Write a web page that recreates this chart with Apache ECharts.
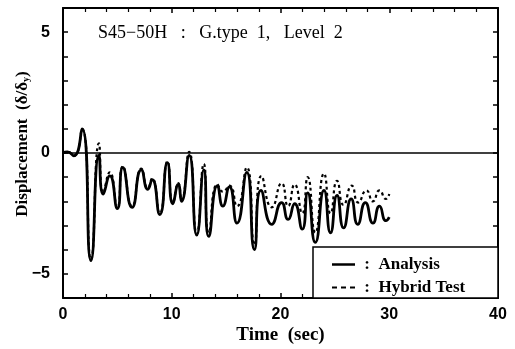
<!DOCTYPE html>
<html><head><meta charset="utf-8">
<script src="https://cdn.jsdelivr.net/npm/echarts@6/dist/echarts.min.js"></script>
<style>html,body{margin:0;padding:0;background:#fff}#c{width:515px;height:349px}</style>
</head><body><div id="c"></div>
<script>
const xTicks = [0, 10, 20, 30, 40];
const yTickLabels = [-5, 0, 5];
const timeA = [0, 0.4, 1.0, 1.75, 2.57, 3.3, 3.7, 4.3, 5.0, 5.5, 6.35, 7.2, 7.8, 8.2, 8.9, 9.6, 10.1, 10.6, 10.9, 11.6, 12.3, 12.95, 13.4, 14.2, 14.7, 15.3, 16.0, 16.9, 17.6, 18.2, 19.2, 20.1, 20.7, 21.3, 22.0, 22.5, 23.2, 24.0, 24.6, 25.2, 25.8, 26.5, 27.1, 27.8, 28.5, 29.1, 29.7, 30.0];
const analysis = [0, 0.05, -0.12, 1.0, -4.45, -0.1, -1.7, -0.95, -2.3, -0.6, -2.25, -0.7, -1.5, -1.1, -2.55, -0.4, -2.1, -1.3, -2.0, -0.1, -3.4, -0.7, -3.45, -1.35, -2.2, -1.4, -2.9, -0.8, -4.0, -1.55, -2.95, -2.05, -2.75, -2.1, -3.15, -1.65, -3.7, -1.55, -3.3, -1.75, -3.1, -1.9, -2.95, -2.05, -2.9, -2.2, -2.8, -2.65];
const timeH = [0, 0.4, 1.0, 1.75, 2.57, 3.3, 3.7, 4.3, 5.0, 5.5, 6.35, 7.2, 7.8, 8.2, 8.9, 9.6, 10.1, 10.6, 10.9, 11.6, 12.3, 12.95, 13.4, 14.2, 14.7, 15.3, 16.0, 16.9, 17.6, 18.25, 19.2, 20.1, 20.7, 21.3, 22.0, 22.5, 23.2, 24.0, 24.6, 25.2, 25.8, 26.55, 27.15, 27.9, 28.5, 29.1, 29.7, 30.0];
const hybrid = [0, 0.05, -0.12, 1.0, -4.4, 0.4, -1.65, -0.8, -2.25, -0.55, -2.2, -0.65, -1.45, -1.05, -2.5, -0.35, -2.05, -1.25, -1.95, 0.05, -3.35, -0.45, -3.3, -1.3, -1.6, -1.35, -2.2, -0.6, -3.8, -0.95, -2.25, -1.25, -2.2, -1.3, -2.5, -1.0, -3.3, -0.85, -2.5, -1.15, -2.15, -1.35, -2.05, -1.55, -2.0, -1.55, -1.9, -1.7];

const chart = echarts.init(document.getElementById('c'), null, {renderer: 'canvas'});
const tickStyle = {show: true, inside: true, length: 5, lineStyle: {color: '#000', width: 1.5}};
const minorStyle = {show: true, splitNumber: 5, length: 4, lineStyle: {color: '#000', width: 1.2}};
const serif = 'Liberation Serif';
chart.setOption({
  animation: false,
  backgroundColor: '#fff',
  grid: {left: 63, right: 17, top: 8, bottom: 51, containLabel: false, outerBoundsMode: 'none'},
  graphic: [
    {type: 'rect', shape: {x: 313, y: 247, width: 185, height: 51}, style: {fill: '#fff', stroke: '#000', lineWidth: 1.5}, z: 5},
    {type: 'text', left: 98, top: 24, style: {text: 'S45\u221250H   :   G.type  1,   Level  2', font: '18px "Liberation Serif"', fill: '#000'}, z: 6}
  ],
  legend: {
    orient: 'vertical', left: 327, top: 251, itemGap: 6, itemWidth: 23, itemHeight: 14,
    formatter: n => ' :  ' + n,
    textStyle: {fontFamily: serif, fontSize: 17, fontWeight: 'bold', color: '#000'},
    data: [
      {name: 'Analysis', icon: 'path://M0,0L24,0L24,2.6L0,2.6Z', itemStyle: {color: '#000'}},
      {name: 'Hybrid Test', icon: 'path://M0,0h5v2.2h-5zM9,0h5v2.2h-5zM18,0h5v2.2h-5z', itemStyle: {color: '#000'}}
    ],
    z: 7, selectedMode: false
  },
  xAxis: [{
    type: 'value', min: xTicks[0], max: xTicks[xTicks.length - 1], interval: 10,
    axisLine: {show: true, onZero: false, lineStyle: {color: '#000', width: 2}},
    axisTick: tickStyle, minorTick: minorStyle, splitLine: {show: false},
    axisLabel: {color: '#000', fontFamily: 'Liberation Sans', fontWeight: 'bold', fontSize: 16, margin: 9},
    name: 'Time  (sec)', nameLocation: 'middle', nameGap: 28, nameMoveOverlap: false,
    nameTextStyle: {color: '#000', fontFamily: serif, fontWeight: 'bold', fontSize: 19}
  }, {
    type: 'value', position: 'top', min: 0, max: 40, interval: 10,
    axisLine: {show: true, onZero: false, lineStyle: {color: '#000', width: 2}},
    axisTick: tickStyle, minorTick: minorStyle, axisLabel: {show: false}, splitLine: {show: false}
  }],
  yAxis: [{
    type: 'value', min: -6, max: 6, interval: 1,
    axisLine: {show: true, onZero: false, lineStyle: {color: '#000', width: 2}},
    axisTick: tickStyle, splitLine: {show: false},
    axisLabel: {color: '#000', fontFamily: 'Liberation Sans', fontWeight: 'bold', fontSize: 16, margin: 13,
      formatter: v => yTickLabels.indexOf(v) >= 0 ? (v < 0 ? '\u2212' + (-v) : String(v)) : ''},
    name: '{a|Displacement  (\u03b4/\u03b4}{s|y}{a|)}', nameLocation: 'middle', nameGap: 32, nameRotate: 90, nameMoveOverlap: false,
    nameTextStyle: {padding: [0, 0, 0, 18], rich: {
      a: {color: '#000', fontFamily: serif, fontWeight: 'bold', fontSize: 17},
      s: {color: '#000', fontFamily: serif, fontWeight: 'bold', fontSize: 10, verticalAlign: 'bottom', padding: [6, 0, 0, 0]}
    }}
  }, {
    type: 'value', position: 'right', min: -6, max: 6, interval: 1,
    axisLine: {show: true, onZero: false, lineStyle: {color: '#000', width: 2}},
    axisTick: tickStyle, axisLabel: {show: false}, splitLine: {show: false}
  }],
  series: [{
    name: 'Analysis', type: 'line', smooth: 0.6, symbol: 'none',
    data: timeA.map((t, i) => [t, analysis[i]]),
    lineStyle: {color: '#000', width: 2.8}, itemStyle: {color: '#000'},
    markLine: {silent: true, symbol: 'none', label: {show: false},
      lineStyle: {color: '#000', width: 1.5, type: 'solid'}, data: [{yAxis: 0}]}
  }, {
    name: 'Hybrid Test', type: 'line', smooth: 0.6, symbol: 'none',
    data: timeH.map((t, i) => [t, hybrid[i]]),
    lineStyle: {color: '#000', width: 2.2, type: [3, 3]}, itemStyle: {color: '#000'}
  }]
});
</script></body></html>
